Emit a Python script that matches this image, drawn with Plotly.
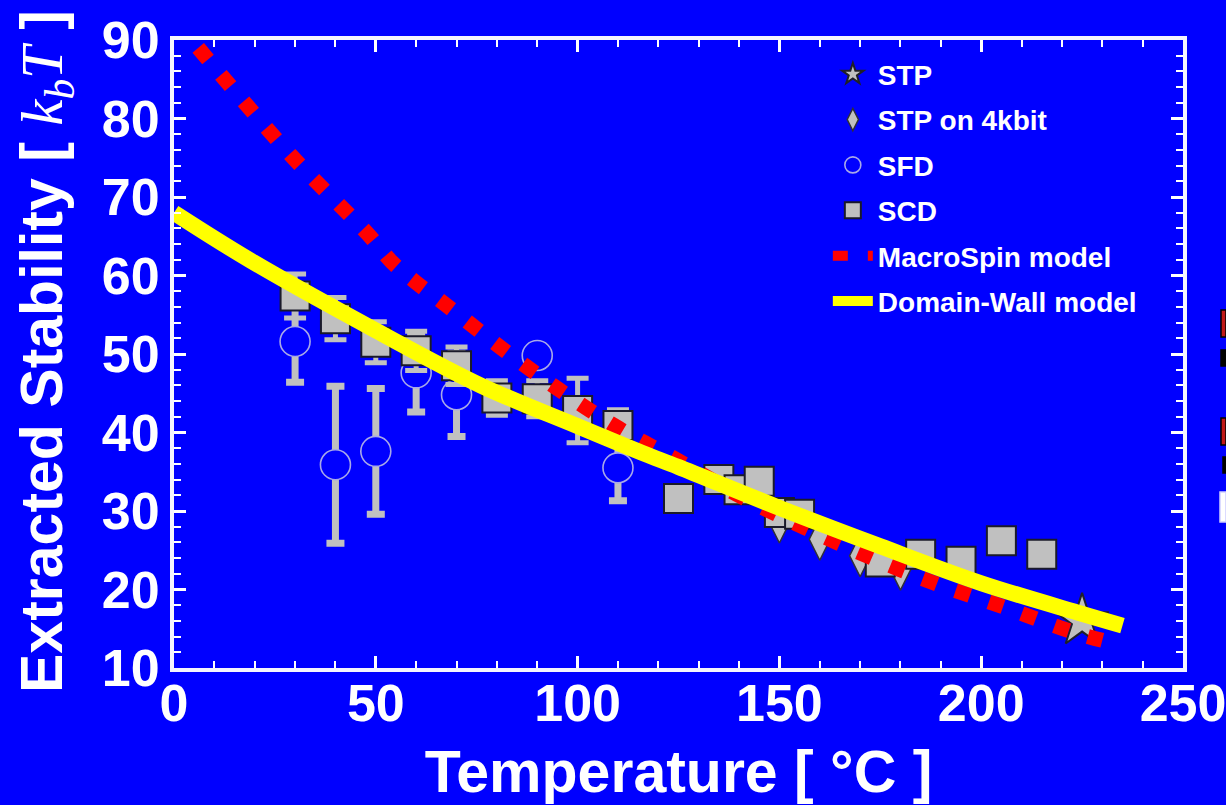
import plotly.graph_objects as go

# ---- measured data ----
# STP
stp_T = [225]
stp_S = [16.0]

# STP on 4kbit
stp4k_T = [150, 160, 170, 180]
stp4k_S = [28.6, 26.4, 24.3, 22.6]

# SFD (with error bars)
sfd_T = [30, 40, 50, 60, 70, 90, 110]
sfd_S = [51.6, 35.9, 37.6, 47.6, 44.8, 49.8, 35.5]
sfd_err = [5.2, 10.0, 8.0, 5.0, 5.3, 0.0, 4.2]

# SCD (with error bars)
scd_T = [30, 40, 50, 60, 70, 80, 90, 100, 110, 125, 135, 140, 145, 150, 155,
         175, 185, 195, 205, 215]
scd_S = [57.4, 54.5, 51.5, 50.4, 48.5, 44.4, 44.3, 42.8, 40.9, 31.6, 34.0,
         32.7, 33.8, 29.8, 29.6, 23.5, 24.5, 23.6, 26.2, 24.5]
scd_err = [2.8, 2.7, 2.6, 2.5, 2.4, 2.2, 2.3, 4.1, 2.0, 0, 0, 0, 0, 0, 0,
           0, 0, 0, 0, 0]

# MacroSpin model curve
ms_T = [6, 29, 48, 54, 60, 67, 74, 81, 95, 110, 125, 141, 157, 173, 189, 206, 222, 231]
ms_S = [89.0, 75.3, 65.3, 61.7, 59.1, 56.4, 53.6, 50.8, 45.6, 40.6, 36.4, 31.7,
        27.7, 24.0, 20.7, 17.7, 14.7, 13.4]

# Domain-Wall model curve
dw_T = [0, 19, 50, 76, 100, 116, 125, 150, 175, 200, 225, 235]
dw_S = [68.0, 61.9, 53.0, 46.0, 40.8, 37.4, 35.6, 30.4, 25.5, 20.8, 16.9, 15.4]

x_ticks = [0, 50, 100, 150, 200, 250]
y_ticks = [10, 20, 30, 40, 50, 60, 70, 80, 90]

BLUE = "#0000FF"
GRAY = "#C0C0C0"
WHITE = "#FFFFFF"
FONT = "Liberation Sans"

W, H = 1226, 805
ML, MR, MT, MB = 174, 43, 40, 137
PW, PH = W - ML - MR, H - MT - MB


def px_to_paper(x0, y0, x1, y1):
    """Convert a pixel box on the page to paper coordinates."""
    return dict(x0=(x0 - ML) / PW, x1=(x1 - ML) / PW,
                y0=(H - MB - y0) / PH, y1=(H - MB - y1) / PH)


fig = go.Figure()

fig.add_trace(go.Scatter(
    x=sfd_T, y=sfd_S, mode="markers", name="SFD", legendrank=3,
    legendgroup="c",
    marker=dict(symbol="circle", size=30, color=BLUE,
                line=dict(color="#A8A8E8", width=1.6)),
    error_y=dict(type="data", array=sfd_err, color=GRAY, thickness=7, width=9),
))
fig.add_trace(go.Scatter(
    x=stp4k_T, y=stp4k_S, mode="markers", name="STP on 4kbit", legendrank=2,
    legendgroup="b",
    marker=dict(symbol="diamond-tall", size=30, color=GRAY,
                line=dict(color="#303038", width=1.5)),
))
fig.add_trace(go.Scatter(
    x=scd_T, y=scd_S, mode="markers", name="SCD", legendrank=4,
    legendgroup="d",
    marker=dict(symbol="square", size=29, color=GRAY,
                line=dict(color="#1A1A2A", width=2)),
    error_y=dict(type="data", array=scd_err, color=GRAY, thickness=5, width=11),
))
fig.add_trace(go.Scatter(
    x=stp_T, y=stp_S, mode="markers", name="STP", legendrank=1,
    legendgroup="a",
    marker=dict(symbol="star", size=40, color=GRAY,
                line=dict(color="#202028", width=2)),
))
fig.add_trace(go.Scatter(
    x=ms_T, y=ms_S, mode="lines", name="MacroSpin model", legendrank=5,
    legendgroup="e", line_shape="spline",
    line=dict(color="#FF0000", width=15, dash="15px,20px"),
))
fig.add_trace(go.Scatter(
    x=dw_T, y=dw_S, mode="lines", name="Domain-Wall model", legendrank=6,
    legendgroup="f", line_shape="spline",
    line=dict(color="#FFFF00", width=16),
))

axis_common = dict(
    showline=True, linecolor="#F4F4FF", linewidth=4, mirror="ticks",
    ticks="inside", ticklen=12, tickwidth=3, tickcolor=WHITE,
    showgrid=False, zeroline=False, automargin=False,
    ticklabeloverflow="allow",
    tickfont=dict(family=FONT, size=52, color=WHITE, weight="bold"),
)

# small clipped icons sitting at the right page edge
edge_boxes = [
    (1221, 310, 1226, 337, "#C01818", "#000000"),
    (1221, 350, 1226, 366, "#000000", "#000000"),
    (1221, 418, 1226, 445, "#C01818", "#000000"),
    (1223, 457, 1226, 473, "#000000", "#000000"),
    (1220, 492, 1226, 522, "#FFFFFF", "#D0D0FF"),
]
shapes = []
for x0, y0, x1, y1, fill, edge in edge_boxes:
    shapes.append(dict(type="rect", xref="paper", yref="paper",
                       fillcolor=fill, line=dict(color=edge, width=1.5),
                       layer="above", **px_to_paper(x0, y0, x1, y1)))

# rotated y-axis title
y_title = dict(
    text="Extracted Stability [ <span style=\"font-family:'Liberation Serif';"
         "font-weight:normal\"><i>k<sub>b</sub>T</i></span> ]",
    xref="paper", yref="paper",
    x=(46 - ML) / PW, y=(H - MB - 352) / PH,
    xanchor="center", yanchor="middle", textangle=-90, showarrow=False,
    font=dict(family=FONT, size=59, color=WHITE, weight="bold"),
)

fig.update_layout(
    width=W, height=H,
    margin=dict(l=ML, r=MR, t=MT, b=MB, autoexpand=False),
    paper_bgcolor=BLUE, plot_bgcolor=BLUE,
    font=dict(family=FONT, color=WHITE),
    xaxis=dict(
        range=[0, 250], tickvals=x_ticks, ticklabelstandoff=-13,
        minor=dict(dtick=10, ticks="inside", ticklen=7, tickwidth=2, tickcolor=WHITE),
        title=dict(text="Temperature [ °C ]", standoff=21,
                   font=dict(family=FONT, size=59, color=WHITE, weight="bold")),
        **axis_common,
    ),
    yaxis=dict(
        range=[10, 90], tickvals=y_ticks,
        minor=dict(dtick=2, ticks="inside", ticklen=7, tickwidth=2, tickcolor=WHITE),
        **axis_common,
    ),
    legend=dict(
        x=0.648, y=0.985, xanchor="left", yanchor="top",
        bgcolor="rgba(0,0,0,0)", borderwidth=0,
        font=dict(family=FONT, size=28, color=WHITE, weight="bold"),
        tracegroupgap=6, itemwidth=40,
    ),
    annotations=[y_title],
    shapes=shapes,
    showlegend=True,
)

fig.write_html("out.html")
